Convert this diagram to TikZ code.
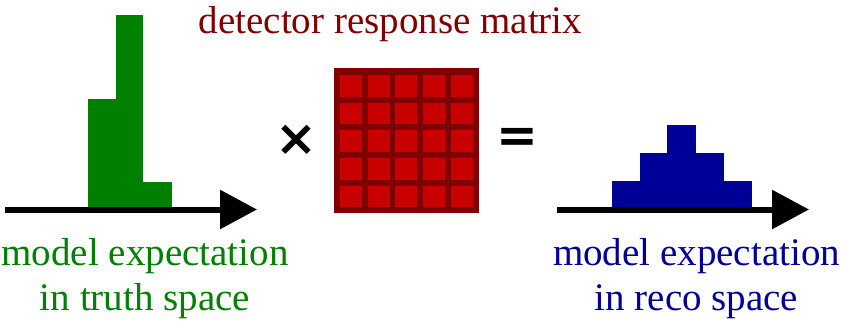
\documentclass[tikz,border=0pt]{standalone}
\usepackage{fontspec}
\setmainfont{Liberation Serif}
\newfontfamily\opfont{DejaVu Sans}
\usepackage{tikz}
\usetikzlibrary{arrows.meta}
\definecolor{truthgreen}{RGB}{0,128,0}
\definecolor{recoblue}{RGB}{0,0,153}
\definecolor{matdark}{RGB}{128,0,0}
\definecolor{matcell}{RGB}{200,0,0}
\tikzset{
  axis/.style={line width=6pt, -{Triangle[length=37pt,width=38pt]}},
  truthbar/.style={fill=truthgreen},
  recobar/.style={fill=recoblue},
  cell/.style={fill=matcell},
  bigtext/.style={font=\fontsize{39}{45}\selectfont, inner sep=0pt, align=center},
  opsign/.style={font=\opfont\bfseries\fontsize{50}{50}\selectfont, inner sep=0pt}}

\begin{document}
\begin{tikzpicture}[x=1pt, y=-1pt]
\useasboundingbox (0,0) rectangle (846,325);
\coordinate (t0) at (5,209.5);
\coordinate (t1) at (257,209.5);
\coordinate (r0) at (557,209.5);
\coordinate (r1) at (809,209.5);
% truth histogram
\fill[truthbar] (87.7,207) rectangle (115.7,99);
\fill[truthbar] (115.7,207) rectangle (143.3,15);
\fill[truthbar] (143.3,207) rectangle (171.7,181.7);
\draw[axis] (t0) -- (t1);
% response matrix
\fill[matdark] (333.5,67.5) rectangle (478.5,212.5);
\foreach \i in {0,...,4}
  \foreach \j in {0,...,4}
    \fill[cell] (340+27.7*\i,75+27.7*\j) rectangle +(22,21.5);
% reco histogram
\fill[recobar] (612.3,207) rectangle (640,181);
\fill[recobar] (640,207) rectangle (666.7,152.7);
\fill[recobar] (666.7,207) rectangle (696,125);
\fill[recobar] (696,207) rectangle (724,152.7);
\fill[recobar] (724,207) rectangle (752.3,181);
\draw[axis] (r0) -- (r1);
% texts
\node[bigtext, text=matdark, anchor=base] (resp) at (390.5,33) {detector response matrix};
\node[bigtext, text=truthgreen, anchor=north] (truth) at (145,238) {model expectation\\in truth space};
\node[bigtext, text=recoblue, anchor=north] (reco) at (696.5,238) {model expectation\\in reco space};
\node[opsign] (times) at (296,140) {×};
\node[opsign] (equals) at (517,140) {=};
\end{tikzpicture}
\end{document}
